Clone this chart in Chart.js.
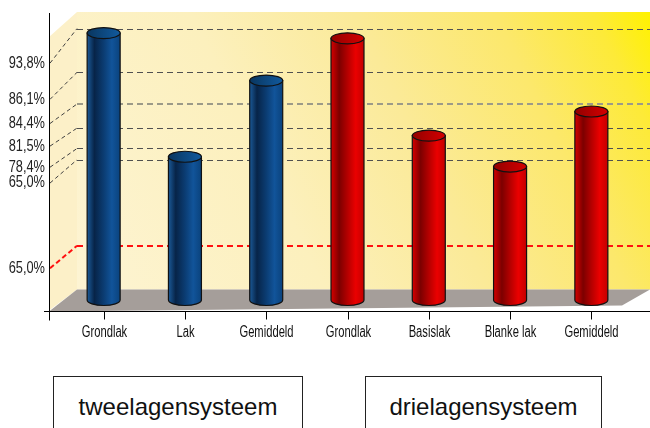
<!DOCTYPE html>
<html><head><meta charset="utf-8">
<script src="https://cdn.jsdelivr.net/npm/chart.js@4/dist/chart.umd.min.js"></script>
<style>
html,body{margin:0;padding:0;background:#fff;}
#wrap{position:relative;width:650px;height:428px;overflow:hidden;}
#c{position:absolute;left:0;top:0;}
.box{position:absolute;top:376px;height:62px;border:1px solid #222;box-sizing:border-box;font-family:'Liberation Sans',Arial,sans-serif;font-size:24px;text-align:center;line-height:60px;color:#111;background:#fff;}
</style></head><body>
<div id="wrap"><canvas id="c" width="650" height="428"></canvas>
<div class="box" id="g0" style="left:53px;width:250px;"></div>
<div class="box" id="g1" style="left:365px;width:237px;"></div>
</div>
<script>
// ---- data ----
const categories = ['Grondlak','Lak','Gemiddeld','Grondlak','Basislak','Blanke lak','Gemiddeld'];
const groupOf = [0,0,0,1,1,1,1];
const groupNames = ['tweelagensysteem','drielagensysteem'];
const values = [94.4, 78.0, 88.1, 93.7, 80.8, 76.7, 84.0];
// back-wall reference lines (axis units) and the labels shown for them
const gridLevels  = [93.6, 87.8, 83.6, 80.4, 77.7, 76.2, 64.8];
const labelLevels = [91.8, 87.0, 83.8, 80.8, 78.0, 75.9, 64.6];
const tickLabels  = ['93,8%','86,1%','84,4%','81,5%','78,4%','65,0%','65,0%'];
const yMin = 59, yMax = 96;

groupNames.forEach((n,i)=>{document.getElementById('g'+i).textContent=n;});

const FONT = "'Liberation Sans',Arial,sans-serif";
const DX = 28, DY = 21;
const AXIS_X = 49, WALL_TOP = 12, RIGHT = 650;

function narrowText(ctx, txt, x, y, size, squeeze, align){
  ctx.save();
  ctx.font = size + 'px ' + FONT;
  ctx.textAlign = align; ctx.textBaseline = 'middle';
  ctx.translate(x, y); ctx.scale(squeeze, 1);
  ctx.fillText(txt, 0, 0);
  ctx.restore();
}

const palettes = [
  {body:[[0,'#1b5a98'],[0.22,'#072448'],[0.5,'#0b3c72'],[0.75,'#11549a'],[1,'#0a427c']], top:['#09365f','#115a9e']},
  {body:[[0,'#d80000'],[0.25,'#7c0000'],[0.5,'#b40000'],[0.75,'#ea0000'],[1,'#c40000']], top:['#920000','#d40000']}
];

const scene = {
  id:'scene',
  beforeDatasetsDraw(chart){
    const {ctx} = chart; const y = chart.scales.y;
    const floorMid = y.getPixelForValue(yMin);
    const front = floorMid + DY/2, back = floorMid - DY/2;
    const bx = AXIS_X + DX;
    ctx.save();
    // back wall
    const g = ctx.createLinearGradient(bx, back, RIGHT, WALL_TOP);
    g.addColorStop(0,'#fdf4d3'); g.addColorStop(0.35,'#fcf0bd');
    g.addColorStop(0.58,'#fbea98'); g.addColorStop(0.78,'#fce86c'); g.addColorStop(0.92,'#fdea38'); g.addColorStop(1,'#fff200');
    ctx.fillStyle = g; ctx.fillRect(bx, WALL_TOP, RIGHT-bx, back-WALL_TOP);
    // side wall
    ctx.fillStyle = '#fcf0c8';
    ctx.beginPath(); ctx.moveTo(AXIS_X, WALL_TOP+DY+4); ctx.lineTo(bx, WALL_TOP);
    ctx.lineTo(bx, back); ctx.lineTo(AXIS_X, front); ctx.closePath(); ctx.fill();
    // floor
    ctx.fillStyle = '#a59e9a';
    ctx.beginPath(); ctx.moveTo(AXIS_X, front+1); ctx.lineTo(RIGHT-DX, front-5);
    ctx.lineTo(RIGHT, back); ctx.lineTo(bx, back); ctx.closePath(); ctx.fill();
    // reference lines
    gridLevels.forEach((lv,i)=>{
      const yb = y.getPixelForValue(lv) - DY/2;
      const yl = y.getPixelForValue(labelLevels[i]) + DY/2;
      const red = i === gridLevels.length-1;
      const light = i === 2;
      ctx.strokeStyle = red ? '#ff1010' : (light ? '#9c9a88' : '#505050');
      ctx.lineWidth = red ? 2 : (light ? 2 : 1);
      ctx.setLineDash([6,4]);
      const off = ctx.lineWidth%2 ? 0.5 : 0;
      ctx.beginPath(); ctx.moveTo(bx, Math.round(yb)+off); ctx.lineTo(RIGHT, Math.round(yb)+off); ctx.stroke();
      ctx.lineWidth = red ? 2 : 1;
      ctx.strokeStyle = red ? '#ff1010' : '#404040';
      ctx.setLineDash(red ? [5,3] : [4,3]);
      ctx.beginPath(); ctx.moveTo(AXIS_X+1, yl); ctx.lineTo(bx, yb); ctx.stroke();
      ctx.setLineDash([]);
      ctx.fillStyle = '#222';
      narrowText(ctx, tickLabels[i], AXIS_X-4, yl, 16, 0.8, 'right');
    });
    ctx.restore();
  },
  afterDatasetsDraw(chart){
    const {ctx} = chart;
    const meta = chart.getDatasetMeta(0);
    ctx.save();
    meta.data.forEach((bar,i)=>{
      const p = bar.getProps(['x','y','base','width'], true);
      const rx = p.width/2, ry = 5.5, left = p.x - rx;
      const pal = palettes[groupOf[i]];
      const g = ctx.createLinearGradient(left,0,left+p.width,0);
      pal.body.forEach(s=>g.addColorStop(s[0],s[1]));
      ctx.beginPath();
      ctx.moveTo(left, p.y); ctx.lineTo(left, p.base);
      ctx.ellipse(p.x, p.base, rx, ry, 0, Math.PI, 0, true);
      ctx.lineTo(left+p.width, p.y); ctx.closePath();
      ctx.fillStyle = g; ctx.fill();
      ctx.strokeStyle = '#111'; ctx.lineWidth = 1.2; ctx.stroke();
      const tg = ctx.createLinearGradient(left,0,left+p.width,0);
      tg.addColorStop(0,pal.top[0]); tg.addColorStop(1,pal.top[1]);
      ctx.beginPath(); ctx.ellipse(p.x, p.y, rx, ry, 0, 0, Math.PI*2);
      ctx.fillStyle = tg; ctx.fill(); ctx.stroke();
    });
    ctx.restore();
  },
  afterDraw(chart){
    const {ctx} = chart; const x = chart.scales.x, y = chart.scales.y;
    const front = y.getPixelForValue(yMin) + DY/2;
    ctx.save();
    ctx.strokeStyle = '#000'; ctx.lineWidth = 1;
    const fy = Math.round(front)+0.5;
    ctx.beginPath(); ctx.moveTo(AXIS_X+0.5, 13); ctx.lineTo(AXIS_X+0.5, fy+9); ctx.stroke();
    ctx.beginPath(); ctx.moveTo(44, fy); ctx.lineTo(RIGHT, fy); ctx.stroke();
    ctx.fillStyle = '#111';
    categories.forEach((c,i)=>{
      const tx = Math.round(x.getPixelForTick(i))+0.5;
      ctx.beginPath(); ctx.moveTo(tx, fy); ctx.lineTo(tx, fy+8); ctx.stroke();
      narrowText(ctx, c, tx, fy+21, 16, 0.7, 'center');
    });
    ctx.restore();
  }
};

new Chart(document.getElementById('c'), {
  type:'bar',
  data:{labels:categories, datasets:[{data:values, base:yMin, backgroundColor:'rgba(0,0,0,0)', borderWidth:0, barThickness:33}]},
  options:{
    responsive:false, animation:false, devicePixelRatio:1,
    layout:{padding:{left:63, right:18, top:21, bottom:88}},
    plugins:{legend:{display:false}, tooltip:{enabled:false}},
    scales:{
      x:{grid:{display:false, drawTicks:false}, border:{display:false},
         ticks:{display:false}, afterFit(s){ s.height = 40; }},
      y:{display:false, min:yMin, max:yMax}
    }
  },
  plugins:[scene]
});
</script>
</body></html>
